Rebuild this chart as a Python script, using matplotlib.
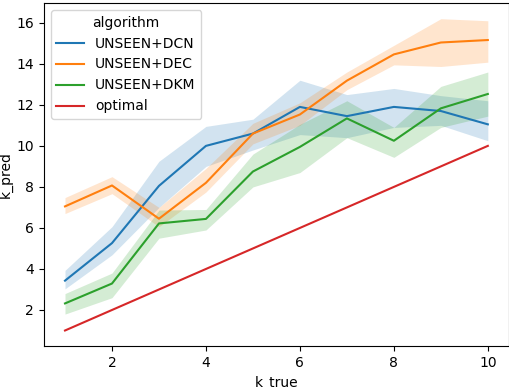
import matplotlib
matplotlib.use("Agg")
import matplotlib.pyplot as plt
import numpy as np

k_true = [1, 2, 3, 4, 5, 6, 7, 8, 9, 10]

dcn_mean = [3.43, 5.26, 8.05, 10.0, 10.6, 11.9, 11.45, 11.9, 11.7, 11.05]
dcn_low = [3.03, 4.69, 7.0, 9.0, 9.8, 10.55, 10.4, 10.9, 11.0, 10.25]
dcn_high = [3.93, 6.06, 9.25, 10.95, 11.3, 13.2, 12.5, 12.8, 12.45, 12.2]

dec_mean = [7.05, 8.07, 6.45, 8.2, 10.6, 11.53, 13.18, 14.46, 15.04, 15.16]
dec_low = [6.7, 7.67, 6.06, 7.75, 10.1, 11.0, 12.74, 13.95, 13.87, 14.08]
dec_high = [7.48, 8.5, 7.0, 8.9, 11.1, 12.1, 13.6, 14.9, 16.2, 16.1]

dkm_mean = [2.32, 3.29, 6.22, 6.44, 8.75, 9.95, 11.34, 10.25, 11.83, 12.53]
dkm_low = [1.8, 2.6, 5.5, 5.9, 8.0, 8.7, 10.4, 9.44, 10.9, 11.45]
dkm_high = [2.8, 3.8, 6.87, 6.9, 9.6, 11.05, 12.2, 10.9, 12.9, 13.6]

optimal = [1, 2, 3, 4, 5, 6, 7, 8, 9, 10]

names = ["UNSEEN+DCN", "UNSEEN+DEC", "UNSEEN+DKM", "optimal"]
colors = ["#1f77b4", "#ff7f0e", "#2ca02c", "#d62728"]

fig = plt.figure(figsize=(5.1, 3.88), dpi=100)
ax = fig.add_axes([0.086, 0.108, 0.912, 0.884])

series = [(dcn_mean, dcn_low, dcn_high), (dec_mean, dec_low, dec_high),
          (dkm_mean, dkm_low, dkm_high), (optimal, None, None)]
for (m, lo, hi), name, c in zip(series, names, colors):
    ax.plot(k_true, m, color=c, lw=1.5, label=name)
    if lo is not None:
        ax.fill_between(k_true, lo, hi, color=c, alpha=0.2, linewidth=0)

ax.set_xlabel("k_true")
ax.set_ylabel("k_pred", labelpad=2.5)
ax.set_xticks([2, 4, 6, 8, 10])
ax.set_yticks([2, 4, 6, 8, 10, 12, 14, 16])
ax.legend(title="algorithm", loc="upper left")
fig.savefig("out.png", dpi=100)
